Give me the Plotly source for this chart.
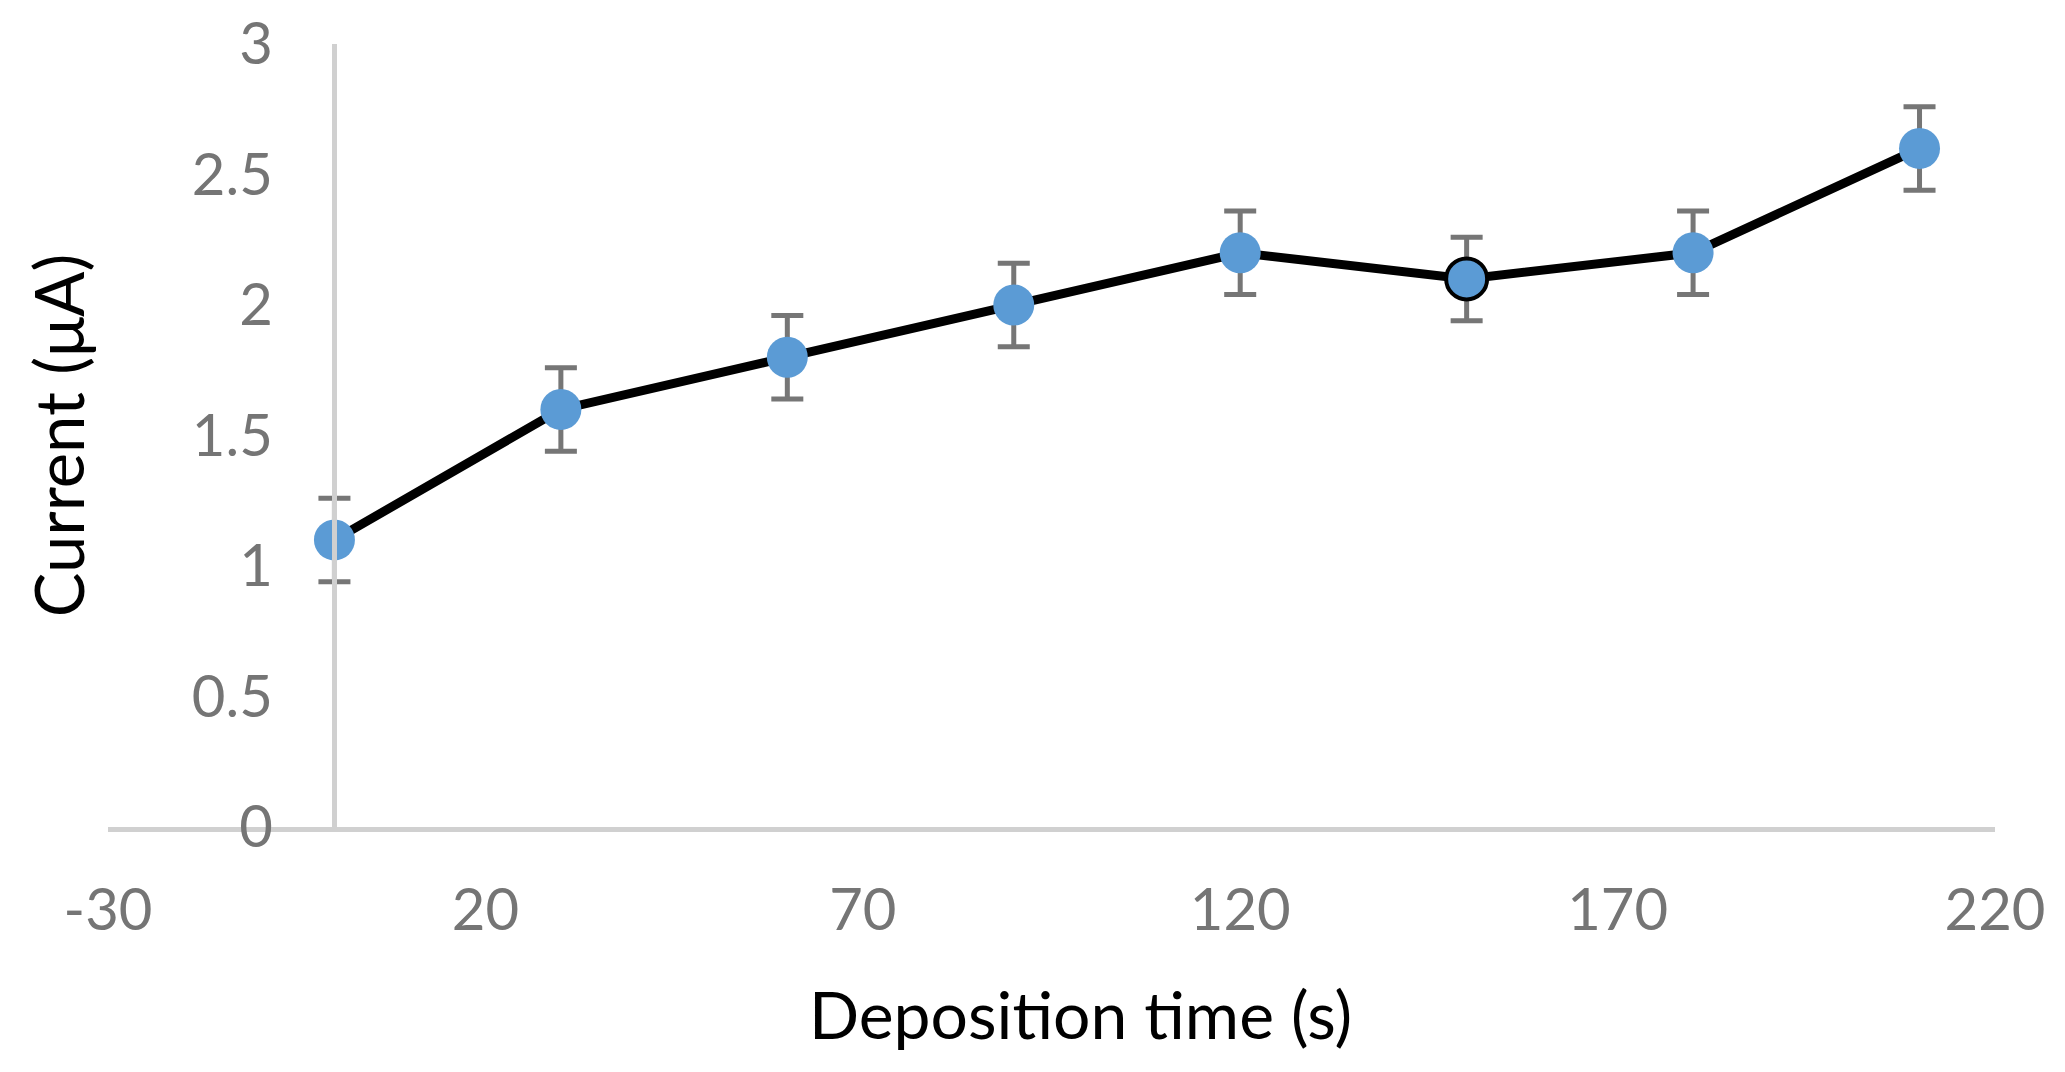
import plotly.graph_objects as go

# Data
deposition_time = [0, 30, 60, 90, 120, 150, 180, 210]
current_uA = [1.1, 1.6, 1.8, 2.0, 2.2, 2.1, 2.2, 2.6]
current_err = [0.16, 0.16, 0.16, 0.16, 0.16, 0.16, 0.16, 0.16]
highlighted_time = 150

x_tick_vals = [-30, 20, 70, 120, 170, 220]
x_tick_text = ["-30", "20", "70", "120", "170", "220"]
y_tick_vals = [0, 0.5, 1, 1.5, 2, 2.5, 3]
y_tick_text = ["0", "0.5", "1", "1.5", "2", "2.5", "3"]

x_title = "Deposition time (s)"
y_title = "Current (μA)"

x_range = [-30, 220]
y_range = [0, 3]

FONT = "Lato, 'Open Sans', sans-serif"
TICK_COLOR = "#757575"

outline_widths = [4 if t == highlighted_time else 0 for t in deposition_time]

fig = go.Figure()
fig.add_trace(go.Scatter(
    x=deposition_time,
    y=current_uA,
    mode="lines+markers",
    line=dict(color="#000000", width=9),
    marker=dict(color="#5B9BD5", size=41,
                line=dict(color="#000000", width=outline_widths)),
    error_y=dict(type="data", array=current_err, visible=True,
                 color="#767676", thickness=5, width=16),
    showlegend=False,
))

fig.add_annotation(
    text=x_title, xref="paper", yref="paper", x=0.5156, y=-0.2388,
    xanchor="center", yanchor="middle", showarrow=False,
    font=dict(size=66, color="#000000", family=FONT),
)

fig.update_layout(
    width=2065, height=1072,
    margin=dict(l=100, r=78, t=36, b=253, autoexpand=False),
    paper_bgcolor="white", plot_bgcolor="white",
    font=dict(family=FONT),
    xaxis=dict(
        range=x_range, tickmode="array", tickvals=x_tick_vals, ticktext=x_tick_text,
        showgrid=False, zeroline=False, automargin=False,
        showline=True, linecolor="#D0D0D0", linewidth=5,
        ticks="", ticklabelstandoff=28, ticklabeloverflow="allow",
        tickfont=dict(size=58, color=TICK_COLOR, family=FONT),
    ),
    yaxis=dict(
        range=y_range, tickmode="array", tickvals=y_tick_vals, ticktext=y_tick_text,
        showgrid=False, zeroline=False, automargin=False,
        anchor="free", position=(0 - x_range[0]) / (x_range[1] - x_range[0]),
        showline=True, linecolor="#D0D0D0", linewidth=5,
        ticks="", ticklabelstandoff=48, ticklabeloverflow="allow",
        tickfont=dict(size=58, color=TICK_COLOR, family=FONT),
        title=dict(text=y_title, standoff=84,
                   font=dict(size=67, color="#000000", family=FONT)),
    ),
)

fig.write_html("out.html")
